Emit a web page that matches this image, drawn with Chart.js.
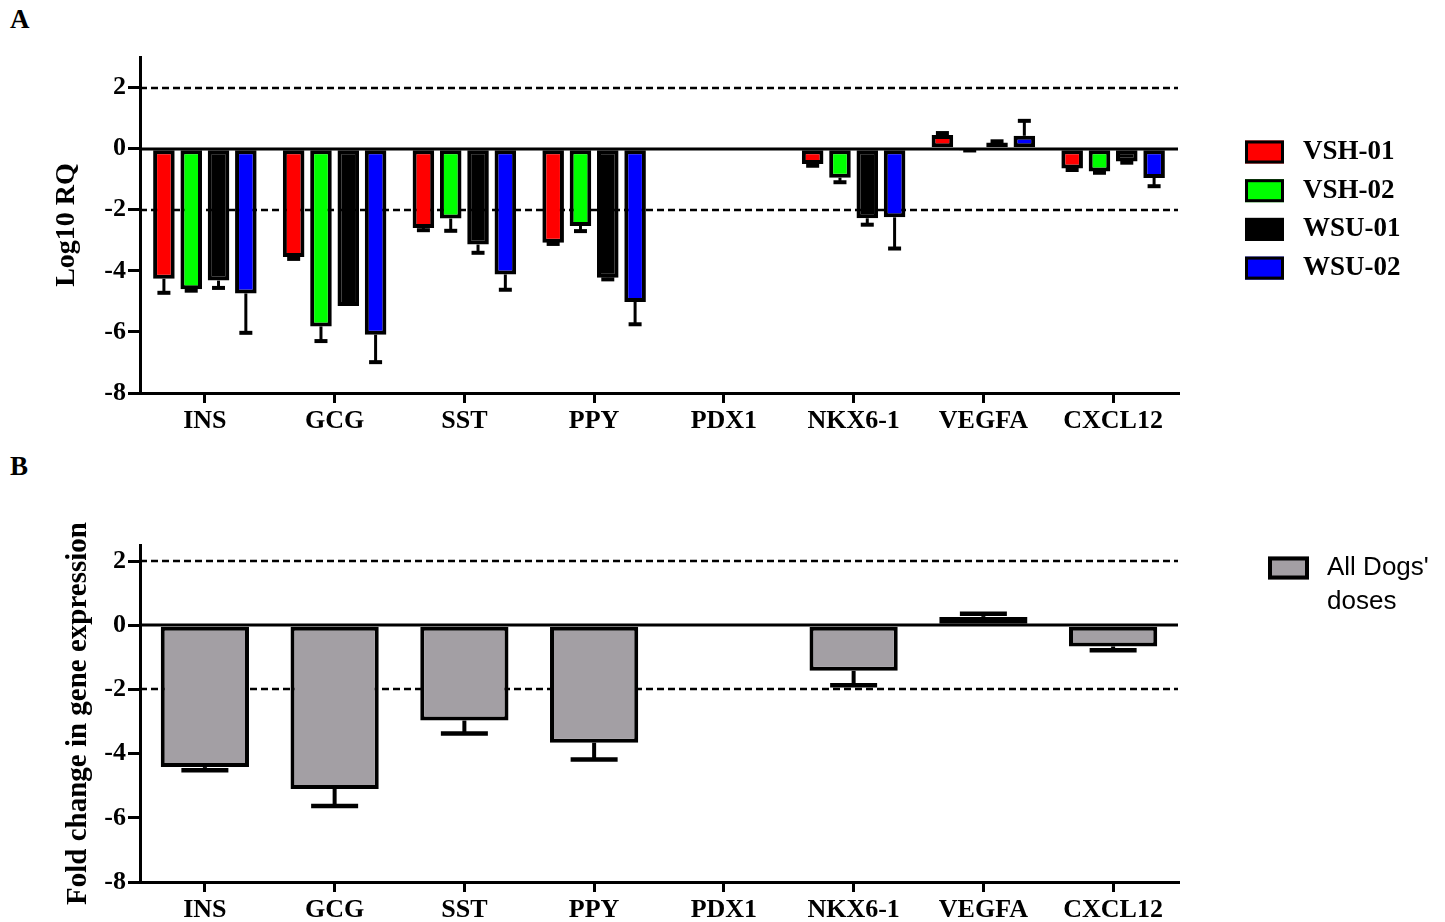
<!DOCTYPE html>
<html>
<head>
<meta charset="utf-8">
<script src="https://cdn.jsdelivr.net/npm/chart.js@4.4.1/dist/chart.umd.min.js"></script>
<style>
  html, body { margin: 0; padding: 0; background: #fff; }
  body { width: 1445px; height: 922px; position: relative; overflow: hidden; }
  canvas { position: absolute; left: 0; }
  #cA { top: 0; }
  #cB { top: 450px; }
  .plabel { position: absolute; left: 10px; font: bold 27px "Liberation Serif", serif; color: #000; }
</style>
</head>
<body>
<div class="plabel" style="top:4px;">A</div>
<div class="plabel" style="top:451px;">B</div>
<canvas id="cA" width="1445" height="450"></canvas>
<canvas id="cB" width="1445" height="472"></canvas>
<script>
// ---------- DATA ----------
const categories = ['INS', 'GCG', 'SST', 'PPY', 'PDX1', 'NKX6-1', 'VEGFA', 'CXCL12'];
const yTickValues = [-8, -6, -4, -2, 0, 2];

const seriesNamesA = ['VSH-01', 'VSH-02', 'WSU-01', 'WSU-02'];
const vsh01    = [-4.26, -3.55, -2.60, -3.08, null, -0.50,  0.45, -0.65];
const vsh01Err = [ 0.46,  0.06,  0.07,  0.04, null,  0.06,  0.06,  0.05];
const vsh02    = [-4.60, -5.82, -2.29, -2.53, null, -0.95, -0.03, -0.75];
const vsh02Err = [ 0.05,  0.48,  0.40,  0.17, null,  0.15,  0.03,  0.04];
const wsu01    = [-4.32, -5.15, -3.14, -4.23, null, -2.28,  0.20, -0.42];
const wsu01Err = [ 0.24,  0.00,  0.27,  0.05, null,  0.21,  0.04,  0.04];
const wsu02    = [-4.74, -6.09, -4.12, -5.02, null, -2.25,  0.42, -0.96];
const wsu02Err = [ 1.29,  0.90,  0.50,  0.73, null,  1.02,  0.49,  0.27];

const seriesNameB = ["All Dogs' doses"];
const legendLinesB = ["All Dogs'", "doses"];
const allDogs    = [-4.42, -5.10, -2.97, -3.66, null, -1.42, 0.26, -0.66];
const allDogsErr = [ 0.10,  0.53,  0.40,  0.52, null,  0.45, 0.10,  0.12];

const yTitleA = 'Log10 RQ';
const yTitleB = 'Fold change in gene expression';

// ---------- STYLE ----------
const colorsA = ['#ff0000', '#00ff00', '#000000', '#0000ff'];
const colorB = '#a39fa4';
const serif = '"Liberation Serif", "Times New Roman", serif';

// ---------- PLUGINS ----------
const refLines = {
  id: 'refLines',
  beforeDatasetsDraw(chart, args, opts) {
    const { ctx, chartArea: { left, right }, scales: { y } } = chart;
    ctx.save();
    ctx.strokeStyle = '#000';
    ctx.lineWidth = opts.dashWidth;
    ctx.setLineDash(opts.dash);
    opts.dashed.forEach(v => {
      const py = Math.round(y.getPixelForValue(v));
      ctx.beginPath(); ctx.moveTo(left, py); ctx.lineTo(right, py); ctx.stroke();
    });
    ctx.setLineDash([]);
    ctx.lineWidth = opts.zeroWidth;
    const p0 = Math.round(y.getPixelForValue(0));
    ctx.beginPath(); ctx.moveTo(left, p0); ctx.lineTo(right, p0); ctx.stroke();
    ctx.restore();
  }
};

const errorBars = {
  id: 'errorBars',
  afterDatasetsDraw(chart, args, opts) {
    const { ctx, scales: { y } } = chart;
    ctx.save();
    ctx.strokeStyle = '#000';
    chart.data.datasets.forEach((ds, i) => {
      const errs = opts.errors[i];
      const meta = chart.getDatasetMeta(i);
      meta.data.forEach((bar, j) => {
        const v = ds.data[j], e = errs[j];
        if (v === null || e === null || !e) return;
        const end = v < 0 ? v - e : v + e;
        const y0 = y.getPixelForValue(v);
        const y1 = y.getPixelForValue(end);
        ctx.lineWidth = opts.lineWidth;
        ctx.beginPath(); ctx.moveTo(bar.x, y0); ctx.lineTo(bar.x, y1); ctx.stroke();
        ctx.lineWidth = opts.capThickness;
        ctx.beginPath(); ctx.moveTo(bar.x - opts.capWidth / 2, y1); ctx.lineTo(bar.x + opts.capWidth / 2, y1); ctx.stroke();
      });
    });
    ctx.restore();
  }
};

const boxLegend = {
  id: 'boxLegend',
  afterDraw(chart, args, opts) {
    const { ctx } = chart;
    ctx.save();
    opts.items.forEach((it, k) => {
      const cy = opts.y0 + k * opts.dy;
      ctx.fillStyle = it.color;
      ctx.fillRect(opts.boxX, cy - opts.boxH / 2, opts.boxW, opts.boxH);
      ctx.strokeStyle = '#000';
      ctx.lineWidth = opts.boxBorder;
      ctx.strokeRect(opts.boxX + opts.boxBorder / 2, cy - opts.boxH / 2 + opts.boxBorder / 2,
                     opts.boxW - opts.boxBorder, opts.boxH - opts.boxBorder);
      ctx.fillStyle = '#000';
      ctx.font = opts.font;
      ctx.textBaseline = 'middle';
      ctx.textAlign = 'left';
      it.lines.forEach((ln, m) => ctx.fillText(ln, opts.textX, cy + m * opts.lineGap));
    });
    ctx.restore();
  }
};

Chart.register(refLines, errorBars, boxLegend);

function yScale(min, max, title, titlePad, titleSize) {
  return {
    min: min, max: max,
    afterBuildTicks(s) { s.ticks = yTickValues.map(v => ({ value: v })); },
    afterFit(s) { s.width = 140; },
    ticks: { color: '#000', font: { family: serif, size: 26, weight: 'bold' }, padding: 2,
             callback: v => String(v) },
    grid: { drawOnChartArea: false, drawTicks: true, tickLength: 12, color: '#000', lineWidth: 3 },
    border: { display: true, color: '#000', width: 3 },
    title: { display: true, text: title, color: '#000',
             font: { family: serif, size: titleSize, weight: 'bold' },
             padding: { top: titlePad, bottom: 0 } }
  };
}

function xScale(h) {
  return {
    afterFit(s) { s.height = h; },
    grid: { offset: false, drawOnChartArea: false, drawTicks: true, tickLength: 10, color: '#000', lineWidth: 3 },
    border: { display: true, color: '#000', width: 3 },
    ticks: { color: '#000', autoSkip: false, maxRotation: 0, padding: 3,
             font: { family: serif, size: 26, weight: 'bold' } }
  };
}

// ---------- CHART A ----------
const valuesA = [vsh01, vsh02, wsu01, wsu02];
const errorsA = [vsh01Err, vsh02Err, wsu01Err, wsu02Err];
new Chart(document.getElementById('cA'), {
  type: 'bar',
  data: {
    labels: categories,
    datasets: seriesNamesA.map((name, i) => ({
      label: name,
      data: valuesA[i],
      backgroundColor: colorsA[i],
      borderColor: '#000',
      borderWidth: 4,
      borderSkipped: false,
      categoryPercentage: 0.842,
      barPercentage: 0.79
    }))
  },
  options: {
    responsive: false,
    animation: false,
    devicePixelRatio: 1,
    layout: { padding: { top: 57, right: 267, left: 0, bottom: 0 } },
    scales: { x: xScale(57), y: yScale(-8, 3, yTitleA, 50, 28) },
    plugins: {
      legend: { display: false },
      tooltip: { enabled: false },
      refLines: { dashed: [2, -2], dash: [7, 4], dashWidth: 2.5, zeroWidth: 3 },
      errorBars: { errors: errorsA, lineWidth: 3, capThickness: 4, capWidth: 13 },
      boxLegend: {
        items: seriesNamesA.map((n, i) => ({ color: colorsA[i], lines: [n] })),
        boxX: 1245, boxW: 39, boxH: 23, y0: 152, dy: 38.7, boxBorder: 3,
        textX: 1303, lineGap: 0, font: 'bold 27px ' + serif
      }
    }
  }
});

// ---------- CHART B ----------
new Chart(document.getElementById('cB'), {
  type: 'bar',
  data: {
    labels: categories,
    datasets: [{
      label: seriesNameB[0],
      data: allDogs,
      backgroundColor: colorB,
      borderColor: '#000',
      borderWidth: 4,
      borderSkipped: false,
      categoryPercentage: 1.0,
      barPercentage: 0.68
    }]
  },
  options: {
    responsive: false,
    animation: false,
    devicePixelRatio: 1,
    layout: { padding: { top: 95, right: 267, left: 0, bottom: 0 } },
    scales: { x: xScale(40), y: yScale(-8, 2.5, yTitleB, 61, 29) },
    plugins: {
      legend: { display: false },
      tooltip: { enabled: false },
      refLines: { dashed: [2, -2], dash: [7, 4], dashWidth: 2.5, zeroWidth: 3 },
      errorBars: { errors: [allDogsErr], lineWidth: 4, capThickness: 4.5, capWidth: 47 },
      boxLegend: {
        items: [{ color: colorB, lines: legendLinesB }],
        boxX: 1268, boxW: 41, boxH: 23, y0: 118, dy: 0, boxBorder: 4,
        textX: 1327, lineGap: 34, font: '26px "Liberation Sans", Arial, sans-serif'
      }
    }
  }
});
</script>
</body>
</html>
